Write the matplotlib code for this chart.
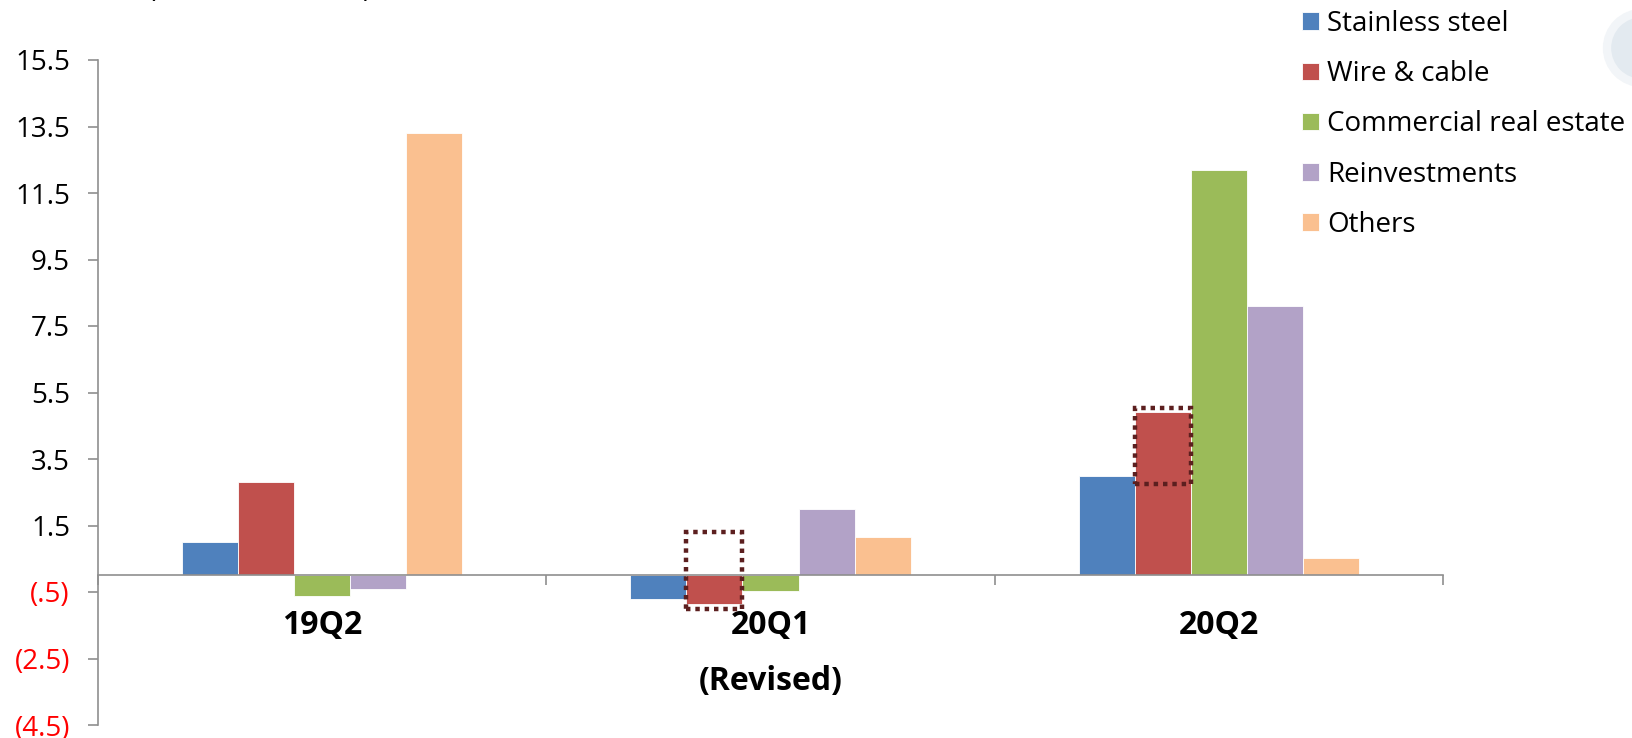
import numpy as np
import matplotlib.pyplot as plt
from matplotlib.patches import Rectangle, Ellipse

plt.rcParams['font.family'] = ['Open Sans', 'Noto Sans', 'DejaVu Sans']

# data
categories = ['19Q2', '20Q1\n(Revised)', '20Q2']
series_names = ['Stainless steel', 'Wire & cable', 'Commercial real estate',
                'Reinvestments', 'Others']
stainless = [1.0, -0.70, 3.0]
wire_cable = [2.8, -0.87, 4.9]
commercial = [-0.62, -0.47, 12.18]
reinvest = [-0.41, 2.0, 8.1]
others = [13.29, 1.15, 0.53]
yticks = np.arange(-4.5, 15.6, 2)

# highlighted wire & cable bars (category index, y range)
highlight_idx = [1, 2]
highlight_y = [(-1.0, 1.3), (2.74, 5.02)]

colors = ['#4F81BD', '#C0504D', '#9BBB59', '#B2A2C7', '#FAC090']
gray = '#8f8f8f'

W, H = 1632, 738
fig = plt.figure(figsize=(W / 100, H / 100), dpi=100)
ax = fig.add_axes([98 / W, 1 - 725 / H, (1443 - 98) / W, (725 - 60) / H])

x = np.arange(len(categories))
w = 0.125
series = [stainless, wire_cable, commercial, reinvest, others]
for i, (vals, name, c) in enumerate(zip(series, series_names, colors)):
    ax.bar(x + (i - 2) * w, vals, w, color=c, edgecolor='#ffffff',
           linewidth=0.6, label=name, zorder=2)

# dotted highlight boxes on the wire & cable bars
for ci, (y0, y1) in zip(highlight_idx, highlight_y):
    ax.add_patch(Rectangle((ci - 1.5 * w, y0), w, y1 - y0, fill=False,
                           edgecolor='#5C1F1F', linewidth=3.2,
                           linestyle=(0, (1, 1.1)), zorder=4))

ax.set_xlim(-0.5, 2.5)
ax.set_ylim(-4.5, 15.5)

for s in ['top', 'right']:
    ax.spines[s].set_visible(False)
ax.spines['left'].set_color(gray)
ax.spines['left'].set_linewidth(1.2)
ax.spines['bottom'].set_color(gray)
ax.spines['bottom'].set_linewidth(1.2)
ax.spines['bottom'].set_position(('data', 0))
ax.spines['bottom'].set_zorder(3)

ylabels = []
for v in yticks:
    if v < 0:
        ylabels.append('(' + f'{-v:.1f}'.lstrip('0') + ')')
    else:
        ylabels.append(f'{v:.1f}')
ax.set_yticks(yticks)
ax.set_yticklabels(ylabels)
for lbl, v in zip(ax.get_yticklabels(), yticks):
    lbl.set_color('#FF0000' if v < 0 else 'black')
ax.tick_params(axis='y', direction='out', length=7.2, width=1.2,
               color=gray, labelsize=20, pad=13)

ax.set_xticks([-0.5, 0.5, 1.5, 2.5])
ax.set_xticklabels([])
ax.set_xticks(x, minor=True)
ax.set_xticklabels(categories, minor=True)
ax.tick_params(axis='x', which='major', direction='out', length=7.2,
               width=1.2, color=gray)
ax.tick_params(axis='x', which='minor', length=0, pad=24.5)
for lbl in ax.get_xticklabels(minor=True):
    lbl.set_fontsize(23)
    lbl.set_fontweight('bold')
    lbl.set_linespacing(1.9)

handles, labels = ax.get_legend_handles_labels()
fig.legend(handles, labels, loc='upper left',
           bbox_to_anchor=(1302 / W, 1 - 10 / H), frameon=False, fontsize=20,
           handlelength=0.6, handleheight=0.6, handletextpad=0.3,
           labelspacing=0.8, borderpad=0, borderaxespad=0)

# cut-off unit label at the very top
fig.text(148 / W, 1 + 3 / H, '(Unit: NT$ billion)', fontsize=20,
         ha='left', va='baseline')

# faint decorative bubble at top right
fig.patches.append(Ellipse((1642 / W, 1 - 48 / H), 70 / W, 70 / H,
                           transform=fig.transFigure, facecolor='#e3eaf0',
                           edgecolor='#f2f5f8', linewidth=6, zorder=0))

fig.savefig('out.png', dpi=100)
